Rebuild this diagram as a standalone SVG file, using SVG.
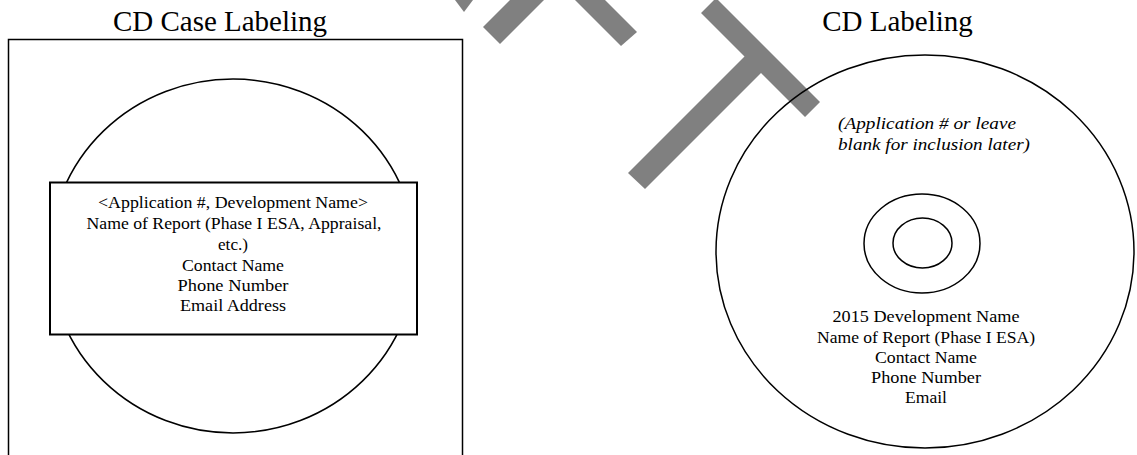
<svg xmlns="http://www.w3.org/2000/svg" width="1137" height="455" viewBox="0 0 1137 455">
<style>
.wm{fill:#808080;stroke:none}
.ln{fill:none;stroke:#000;stroke-width:1.5}
.box{fill:#fff;stroke:#000;stroke-width:2}
.title{font-family:"Liberation Serif","Times New Roman",serif;font-size:29px;fill:#000;text-anchor:middle}
.t{font-family:"Liberation Serif","Times New Roman",serif;font-size:16.5px;fill:#000;text-anchor:middle}
.it{font-family:"Liberation Serif","Times New Roman",serif;font-size:16.5px;font-style:italic;fill:#000}
</style>
<rect width="1137" height="455" fill="#fff"/>
<g id="watermark">
<polygon class="wm" points="455,0 473,0 464,12"/>
<polygon class="wm" points="483,27 500,44 544,0 510,0"/>
<polygon class="wm" points="575,0 605,0 637,32 621,46"/>
<polygon class="wm" points="701,13 716,-2 820,102 805,117 761,73 645,189 628,173 744.5,56.5"/>
</g>
<g id="case">
<text class="title" x="220" y="31">CD Case Labeling</text>
<rect class="ln" x="8.5" y="39.5" width="454" height="430"/>
<ellipse class="ln" cx="233" cy="256" rx="183" ry="177"/>
</g>
<g id="case-label">
<rect class="box" x="50" y="182.5" width="367" height="152"/>
<text class="t" x="233" y="208" textLength="270" lengthAdjust="spacingAndGlyphs">&lt;Application #, Development Name&gt;</text>
<text class="t" x="234" y="229" textLength="295" lengthAdjust="spacingAndGlyphs">Name of Report (Phase I ESA, Appraisal,</text>
<text class="t" x="233" y="249.5" textLength="30" lengthAdjust="spacingAndGlyphs">etc.)</text>
<text class="t" x="233" y="270.5" textLength="102" lengthAdjust="spacingAndGlyphs">Contact Name</text>
<text class="t" x="233" y="290.5" textLength="111" lengthAdjust="spacingAndGlyphs">Phone Number</text>
<text class="t" x="233" y="311" textLength="106" lengthAdjust="spacingAndGlyphs">Email Address</text>
</g>
<g id="cd">
<text class="title" x="897.5" y="31">CD Labeling</text>
<ellipse class="ln" cx="925" cy="251.5" rx="209" ry="196.5"/>
<ellipse class="ln" cx="922" cy="243.5" rx="58" ry="49.5"/>
<ellipse class="ln" cx="922.5" cy="243" rx="29.5" ry="25"/>
<text class="it" x="838" y="129" textLength="178" lengthAdjust="spacingAndGlyphs">(Application # or leave</text>
<text class="it" x="838" y="150" textLength="192" lengthAdjust="spacingAndGlyphs">blank for inclusion later)</text>
<text class="t" x="926" y="322" textLength="187" lengthAdjust="spacingAndGlyphs">2015 Development Name</text>
<text class="t" x="926" y="343" textLength="218" lengthAdjust="spacingAndGlyphs">Name of Report (Phase I ESA)</text>
<text class="t" x="926" y="363" textLength="102" lengthAdjust="spacingAndGlyphs">Contact Name</text>
<text class="t" x="926" y="383" textLength="110" lengthAdjust="spacingAndGlyphs">Phone Number</text>
<text class="t" x="926" y="403" textLength="42" lengthAdjust="spacingAndGlyphs">Email</text>
</g>
</svg>
